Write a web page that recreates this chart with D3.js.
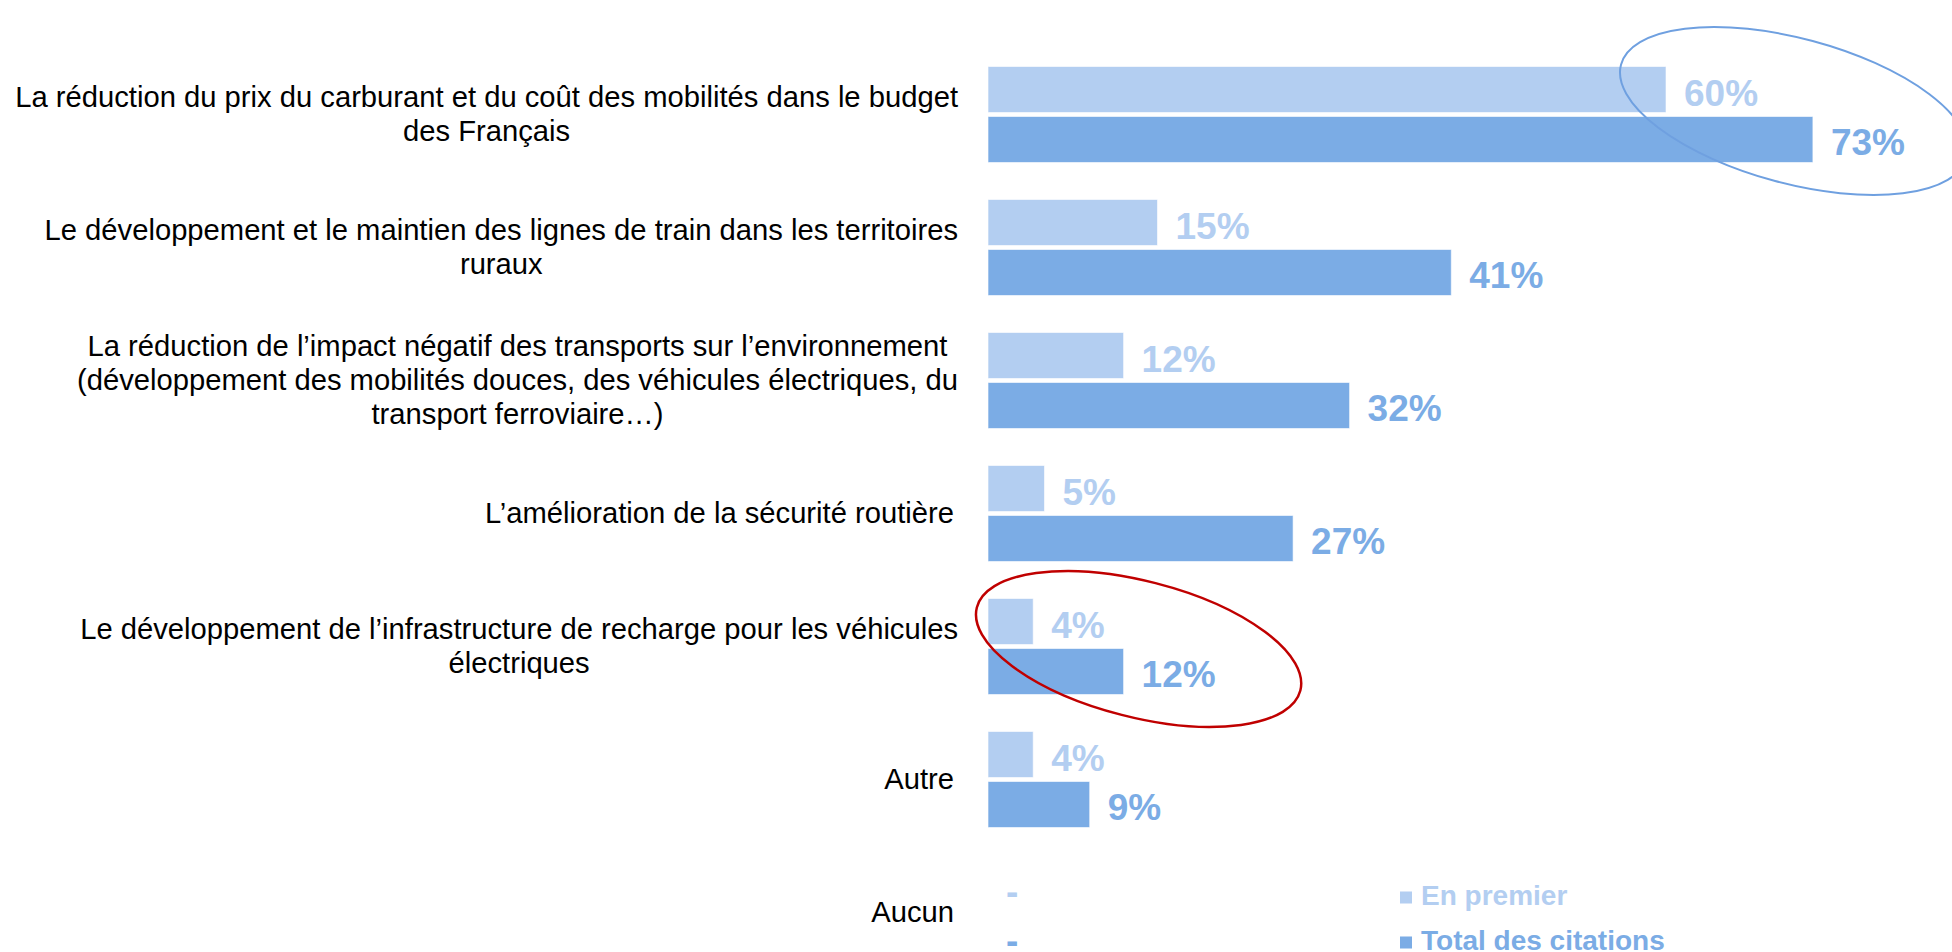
<!DOCTYPE html>
<html>
<head>
<meta charset="utf-8">
<script src="https://cdn.jsdelivr.net/npm/d3@7/dist/d3.min.js"></script>
<style>
  html, body { margin: 0; padding: 0; background: #ffffff; }
  svg { display: block; }
</style>
</head>
<body>
<svg id="chart" width="1952" height="952"></svg>
<script>
// ---- DATA ----
const categories = [
  "La réduction du prix du carburant et du coût des mobilités dans le budget\ndes Français",
  "Le développement et le maintien des lignes de train dans les territoires\nruraux",
  "La réduction de l’impact négatif des transports sur l’environnement\n(développement des mobilités douces, des véhicules électriques, du\ntransport ferroviaire…)",
  "L’amélioration de la sécurité routière",
  "Le développement de l’infrastructure de recharge pour les véhicules\nélectriques",
  "Autre",
  "Aucun"
];
const seriesNames = ["En premier", "Total des citations"];
const enPremier = [60, 15, 12, 5, 4, 4, null];
const totalCitations = [73, 41, 32, 27, 12, 9, null];
const seriesColors = ["#B3CEF1", "#7BACE5"];

// ---- LAYOUT ----
const svg = d3.select("#chart");
const x0 = 988, pxPerPct = 11.3;
const x = d3.scaleLinear().domain([0, 100]).range([x0, x0 + 100 * pxPerPct]);
const groupStep = 133, plotTop = 48;
const y = d3.scaleBand().domain(d3.range(categories.length))
  .range([plotTop, plotTop + groupStep * categories.length]).padding(0);
const yInner = d3.scaleBand().domain(d3.range(seriesNames.length))
  .range([18.5, 114.5]).paddingInner(0.08).paddingOuter(0);

const font = "'Liberation Sans', Arial, sans-serif";
const seriesValues = [enPremier, totalCitations];
const labelShift = [16.5, 15];

// ---- BARS ----
seriesValues.forEach((vals, s) => {
  const g = svg.append("g");
  const data = vals.map((v, i) => ({ v, i }));
  g.selectAll("rect").data(data.filter(d => d.v !== null)).join("rect")
    .attr("x", x(0))
    .attr("y", d => y(d.i) + yInner(s))
    .attr("width", d => x(d.v) - x(0))
    .attr("height", yInner.bandwidth())
    .attr("fill", seriesColors[s])
    .attr("stroke", "#ffffff").attr("stroke-opacity", 0.6).attr("stroke-width", 1);
  g.selectAll("text").data(data).join("text")
    .attr("x", d => (d.v === null ? x(0) : x(d.v)) + 18)
    .attr("y", d => y(d.i) + yInner(s) + yInner.bandwidth() / 2 + labelShift[s])
    .attr("font-family", font).attr("font-weight", "bold").attr("font-size", 37)
    .attr("fill", seriesColors[s])
    .text(d => d.v === null ? "-" : d.v + "%");
});

// ---- CATEGORY LABELS ----
const lineH = 34, labelFs = 29.2;
const lg = svg.append("g").attr("font-family", font).attr("font-size", labelFs).attr("fill", "#000");
categories.forEach((c, i) => {
  const lines = c.split("\n");
  const labelRight = lines.length > 1 ? 958 : 954;
  const cy = y(i) + y.bandwidth() / 2;
  const t = lg.append("text");
  const tspans = lines.map((ln, k) => t.append("tspan").text(ln));
  const widths = tspans.map(ts => ts.node().getComputedTextLength());
  const maxW = d3.max(widths);
  const cx = labelRight - maxW / 2;
  const firstBase = cy - (lines.length - 1) * lineH / 2 + 28 * 0.35;
  tspans.forEach((ts, k) => {
    ts.attr("x", cx).attr("y", firstBase + k * lineH).attr("text-anchor", "middle");
  });
});

// ---- ANNOTATION ELLIPSES ----
const annotations = [
  { cat: 0, val: 73, dx: -19, dy: -3.5, rx: 179, ry: 72.5, rot: 15, color: "#6FA0E0", sw: 2 },
  { cat: 4, val: 12, dx: 15, dy: 2.5, rx: 167, ry: 68, rot: 14.4, color: "#C00000", sw: 2.5 }
];
annotations.forEach(a => {
  const cx = x(a.val) + a.dx, cy = y(a.cat) + y.bandwidth() / 2 + a.dy;
  svg.append("ellipse")
    .attr("transform", `translate(${cx},${cy}) rotate(${a.rot})`)
    .attr("rx", a.rx).attr("ry", a.ry)
    .attr("fill", "none").attr("stroke", a.color).attr("stroke-width", a.sw);
});

// ---- LEGEND ----
const legendX = 1400, legendY0 = 897.5, legendStep = 45;
const leg = svg.append("g");
seriesNames.forEach((n, s) => {
  const cy = legendY0 + s * legendStep;
  leg.append("rect").attr("x", legendX).attr("y", cy - 6).attr("width", 12).attr("height", 12)
    .attr("fill", seriesColors[s]);
  leg.append("text").attr("x", legendX + 21).attr("y", cy + 7.5)
    .attr("font-family", font).attr("font-weight", "bold").attr("font-size", 28)
    .attr("fill", seriesColors[s]).text(n);
});
</script>
</body>
</html>
